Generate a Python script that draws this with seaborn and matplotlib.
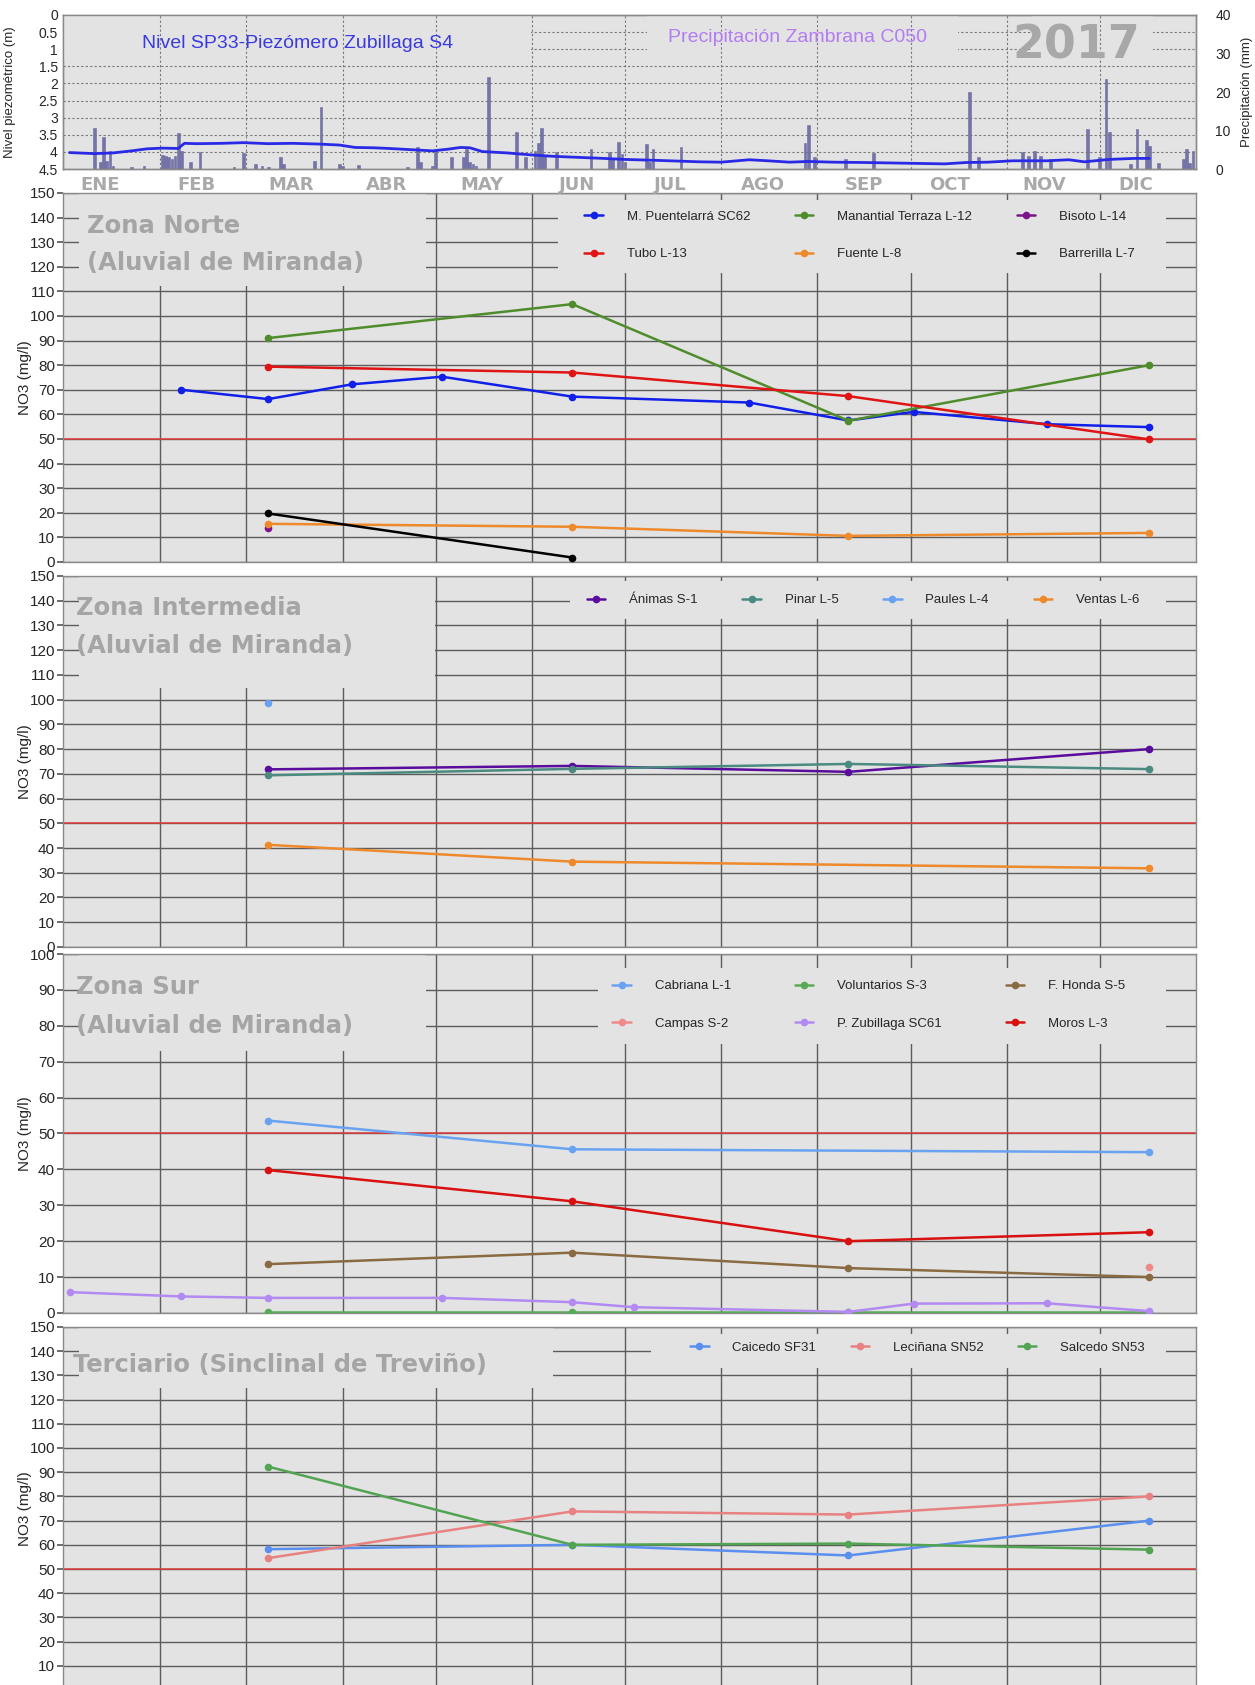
import pandas as pd
import matplotlib.pyplot as plt
from matplotlib.patches import Rectangle
from matplotlib.ticker import FuncFormatter, MultipleLocator
import seaborn as sns

# ---------------- datos ----------------
inicio = pd.Timestamp("2017-01-01")

# nivel piezométrico SP33 - Piezómetro Zubillaga S4 (día del año, m)
dia_nivel = [2, 10, 16, 22, 27, 32, 37, 39, 43, 51, 58, 66, 74, 82, 89, 94, 100,
             105, 111, 119, 124, 128, 131, 135, 143, 151, 158, 166, 174, 181,
             192, 205, 212, 221, 227, 234, 240, 248, 258, 271, 284, 291, 298,
             306, 317, 324, 329, 337, 345, 350]
nivel = [4.02, 4.05, 4.03, 3.97, 3.91, 3.89, 3.90, 3.75, 3.76, 3.75, 3.73, 3.76,
         3.75, 3.77, 3.80, 3.87, 3.88, 3.90, 3.93, 3.97, 3.92, 3.87, 3.88, 3.99,
         4.03, 4.09, 4.13, 4.16, 4.19, 4.22, 4.25, 4.29, 4.30, 4.23, 4.26, 4.30,
         4.28, 4.30, 4.31, 4.33, 4.35, 4.31, 4.30, 4.26, 4.26, 4.23, 4.29, 4.22,
         4.19, 4.19]

# precipitación Zambrana C050 (día del año, mm)
dia_lluvia = [10, 12, 13, 14, 15, 16, 22, 26, 32, 33, 34, 35, 36, 37, 38, 41, 44,
              55, 58, 62, 64, 66, 70, 71, 81, 83, 89, 90, 95, 111, 114, 115, 119,
              120, 125, 129, 130, 131, 132, 133, 137, 146, 149, 152, 153, 154,
              155, 159, 170, 176, 177, 179, 180, 181, 188, 189, 190, 199, 239,
              240, 242, 252, 261, 292, 295, 309, 311, 313, 315, 318, 330, 334,
              336, 337, 344, 346, 349, 350, 353, 361, 362, 363, 364]
lluvia = [10.7, 1.7, 8.4, 2.0, 4.7, 0.8, 0.6, 0.8, 3.7, 3.4, 3.0, 2.6, 3.4, 9.4,
          4.7, 1.9, 4.3, 0.6, 4.1, 1.2, 0.8, 0.6, 3.2, 1.2, 2.1, 16.0, 1.2, 0.8,
          1.0, 0.6, 5.6, 1.7, 0.8, 4.7, 3.0, 3.0, 5.3, 1.7, 1.2, 0.8, 23.8, 9.6,
          3.0, 4.7, 6.8, 10.7, 3.4, 4.3, 5.1, 4.4, 2.7, 7.0, 3.8, 1.7, 6.4, 1.7,
          5.3, 5.6, 6.7, 11.3, 3.2, 2.6, 4.1, 20.0, 3.0, 4.4, 3.4, 4.7, 3.4, 2.7,
          10.3, 3.0, 23.5, 9.6, 1.2, 10.4, 7.5, 6.0, 1.5, 2.7, 5.1, 1.5, 4.7]

meses = ["ENE", "FEB", "MAR", "ABR", "MAY", "JUN",
         "JUL", "AGO", "SEP", "OCT", "NOV", "DIC"]

# fechas de muestreo
f4 = ["2017-03-08", "2017-06-14", "2017-09-11", "2017-12-17"]
f_puentelarra = ["2017-02-08", "2017-03-08", "2017-04-04", "2017-05-03",
                 "2017-06-14", "2017-08-10", "2017-09-11", "2017-10-02",
                 "2017-11-14", "2017-12-17"]
f_zubillaga = ["2017-01-03", "2017-02-08", "2017-03-08", "2017-05-03",
               "2017-06-14", "2017-07-04", "2017-09-11", "2017-10-02",
               "2017-11-14", "2017-12-17"]

# NO3 (mg/l) - Zona Norte
puentelarra = [70, 66.2, 72.2, 75.3, 67.2, 64.8, 57.5, 61, 56, 54.8]
terraza = [91, 104.8, 57.4, 80]
bisoto = [13.9]
tubo = [79.4, 77, 67.4, 49.8]
fuente = [15.5, 14.3, 10.6, 11.8]
barrerilla = [19.7, 1.8]

# Zona Intermedia
animas = [71.8, 73.2, 70.8, 80]
pinar = [69.4, 72, 74, 71.9]
paules = [98.7]
ventas = [41.3, 34.5, 31.8]

# Zona Sur
cabriana = [53.6, 45.6, 44.8]
campas = [12.8]
voluntarios = [0.2, 0.2, 0.2, 0.2]
zubillaga = [5.8, 4.6, 4.2, 4.2, 3.0, 1.6, 0.3, 2.6, 2.7, 0.5]
honda = [13.6, 16.8, 12.5, 10]
moros = [39.8, 31.1, 20, 22.5]

# Terciario
caicedo = [58.2, 60, 55.6, 70]
leciniana = [54.5, 73.8, 72.5, 80]
salcedo = [92.3, 60, 60.5, 58]

# ---------------- estilo ----------------
BG = "#e3e3e3"
GRID = "#5c5c5c"
sns.set_theme(style="darkgrid", rc={"axes.facecolor": BG,
                                    "grid.color": GRID,
                                    "grid.linewidth": 1.0,
                                    "axes.edgecolor": "#8a8a8a",
                                    "axes.linewidth": 1.0})
plt.rcParams["font.family"] = ["Liberation Sans", "DejaVu Sans"]

fig = plt.figure(figsize=(12.55, 16.85), dpi=100)
x0, w = 0.0505, 0.9025
xlim = (inicio, pd.Timestamp("2018-01-01"))
inicio_mes = pd.date_range("2017-01-01", periods=12, freq="MS")
# posición de las etiquetas de mes (día del año)
pos_meses = [12, 43, 73.5, 104, 135, 165.5, 195.5, 225.5, 258, 285.5, 316, 345.5]

# ---------------- panel superior ----------------
ax = fig.add_axes([x0, 0.8997, w, 0.0914])
ax2 = ax.twinx()
ax.set_zorder(ax2.get_zorder() + 1)
ax.patch.set_visible(False)
ax2.patch.set_facecolor(BG)
ax2.patch.set_visible(True)
ax2.grid(False)

fechas_lluvia = inicio + pd.to_timedelta(dia_lluvia, unit="D")
ax2.bar(fechas_lluvia, lluvia, width=0.9, color="#7474a8", edgecolor="#6a6aa0",
        linewidth=0.4)
ax2.set_ylim(0, 40)
ax2.set_yticks([0, 10, 20, 30, 40])
ax2.tick_params(axis="y", labelsize=10, length=0, pad=14)
ax2.set_ylabel("Precipitación (mm)", fontsize=9.5, rotation=90)
ax2.yaxis.set_label_coords(1.04, 0.5)

fechas_nivel = inicio + pd.to_timedelta(dia_nivel, unit="D")
sns.lineplot(x=fechas_nivel, y=nivel, ax=ax, color="#2a2ae6", linewidth=2.0,
             zorder=3)
ax.set_ylim(4.5, 0)
ax.set_xlim(xlim)
ax.set_xlabel("")
ax.yaxis.set_major_locator(MultipleLocator(0.5))
ax.yaxis.set_major_formatter(FuncFormatter(lambda v, p: "%g" % v))
ax.tick_params(axis="y", labelsize=10, length=0, pad=4)
ax.set_ylabel("Nivel piezométrico (m)", fontsize=9.5)
ax.yaxis.set_label_coords(-0.042, 0.5)
ax.xaxis.grid(False)
ax.yaxis.grid(True, linestyle=(0, (2, 2)), color="#777777", linewidth=0.8)
for d in inicio_mes[1:]:
    ax.axvline(d, color="#777777", linestyle=(0, (2, 2)), linewidth=0.8,
               zorder=1.5)
ax.set_xticks(inicio + pd.to_timedelta(pos_meses, unit="D"))
ax.set_xticklabels(meses, fontsize=13, fontweight="bold", color="#a9a9a9",
                   family="DejaVu Sans")
ax.tick_params(axis="x", length=0, pad=5)
ax2.tick_params(axis="x", length=0, labelbottom=False)
for xa, xb in [(0.0, 0.413), (0.515, 0.79), (0.855, 0.962)]:
    ax.add_patch(Rectangle((xa, 0.70), xb - xa, 0.295, transform=ax.transAxes,
                           facecolor=BG, edgecolor="none", zorder=1))
ax.text(0.207, 0.818, "Nivel SP33-Piezómero Zubillaga S4", transform=ax.transAxes,
        ha="center", va="center", fontsize=14, color="#3a3ae0", zorder=4)
ax.text(0.648, 0.855, "Precipitación Zambrana C050", transform=ax.transAxes,
        ha="center", va="center", fontsize=14, color="#b27cf2", zorder=4)
ax.text(0.894, 0.80, "2017", transform=ax.transAxes, ha="center", va="center",
        fontsize=33, fontweight="bold", color="#a8a8a8", family="DejaVu Sans",
        zorder=4)


# ---------------- paneles NO3 ----------------
def panel_no3(rect, series, ymax, titulos, rect_titulo, rect_leyenda,
              orden, pos_leyenda, ncol, colsep):
    axn = fig.add_axes(rect)
    for nombre, fechas, valores, color in series:
        sns.lineplot(x=pd.to_datetime(fechas), y=valores, ax=axn, color=color,
                     marker="o", markersize=5.5, markeredgewidth=0,
                     linewidth=1.8, label=nombre, zorder=3)
    axn.axhline(50, color="#e03a3a", linewidth=1.1, zorder=2)
    axn.set_xlim(xlim)
    axn.set_ylim(0, ymax)
    axn.set_yticks(range(0, ymax + 1, 10))
    axn.set_xticks(inicio_mes[1:])
    axn.set_xlabel("")
    axn.tick_params(axis="x", length=0, labelbottom=False)
    axn.tick_params(axis="y", labelsize=11, length=4, color=GRID, left=True,
                    pad=2)
    axn.set_ylabel("NO3 (mg/l)", fontsize=11)
    axn.yaxis.set_label_coords(-0.028, 0.5)
    for xa, ya, xb, yb in [rect_titulo, rect_leyenda]:
        axn.add_patch(Rectangle((xa, ya), xb - xa, yb - ya,
                                transform=axn.transAxes, facecolor=BG,
                                edgecolor="none", zorder=1))
    for texto, tx, ty in titulos:
        axn.text(tx, ty, texto, transform=axn.transAxes, ha="left",
                 va="baseline", fontsize=17.5, fontweight="bold",
                 color="#a5a5a5", family="DejaVu Sans", zorder=4)
    h, l = axn.get_legend_handles_labels()
    hd = dict(zip(l, h))
    axn.legend([hd[n] for n in orden], orden, loc="center",
               bbox_to_anchor=pos_leyenda, ncol=ncol, frameon=False,
               fontsize=9.5, handlelength=1.4, handletextpad=1.8,
               columnspacing=colsep, labelspacing=1.9)
    return axn


panel_no3([x0, 0.6665, w, 0.219],
          [("M. Puentelarrá SC62", f_puentelarra, puentelarra, "#1020e8"),
           ("Manantial Terraza L-12", f4, terraza, "#4f8d2c"),
           ("Bisoto L-14", f4[:1], bisoto, "#7a1488"),
           ("Tubo L-13", f4, tubo, "#e01414"),
           ("Fuente L-8", f4, fuente, "#ee8a2c"),
           ("Barrerilla L-7", f4[:2], barrerilla, "#000000")],
          150,
          [("Zona Norte", 0.021, 0.892), ("(Aluvial de Miranda)", 0.021, 0.791)],
          (0.014, 0.748, 0.32, 1.0), (0.437, 0.783, 0.9735, 0.981),
          ["M. Puentelarrá SC62", "Tubo L-13", "Manantial Terraza L-12",
           "Fuente L-8", "Bisoto L-14", "Barrerilla L-7"],
          (0.703, 0.885), 3, 3.4)

panel_no3([x0, 0.4380, w, 0.2202],
          [("Ánimas S-1", f4, animas, "#5a0c9c"),
           ("Pinar L-5", f4, pinar, "#4a8a80"),
           ("Paules L-4", f4[:1], paules, "#6aa2f2"),
           ("Ventas L-6", [f4[0], f4[1], f4[3]], ventas, "#ee8a2c")],
          150,
          [("Zona Intermedia", 0.0115, 0.895),
           ("(Aluvial de Miranda)", 0.0115, 0.793)],
          (0.014, 0.698, 0.328, 1.0), (0.447, 0.885, 0.9735, 0.987),
          ["Ánimas S-1", "Pinar L-5", "Paules L-4", "Ventas L-6"],
          (0.706, 0.935), 4, 3.4)

panel_no3([x0, 0.2208, w, 0.2130],
          [("Cabriana L-1", [f4[0], f4[1], f4[3]], cabriana, "#6aa2f2"),
           ("Campas S-2", f4[3:], campas, "#ee8a8a"),
           ("Voluntarios S-3", f4, voluntarios, "#58aa58"),
           ("P. Zubillaga SC61", f_zubillaga, zubillaga, "#b28af2"),
           ("F. Honda S-5", f4, honda, "#8a6a40"),
           ("Moros L-3", f4, moros, "#d81010")],
          100,
          [("Zona Sur", 0.0115, 0.889), ("(Aluvial de Miranda)", 0.0115, 0.781)],
          (0.014, 0.73, 0.32, 1.0), (0.472, 0.749, 0.9735, 0.961),
          ["Cabriana L-1", "Campas S-2", "Voluntarios S-3",
           "P. Zubillaga SC61", "F. Honda S-5", "Moros L-3"],
          (0.711, 0.858), 3, 4.85)

panel_no3([x0, -0.003, w, 0.2155],
          [("Caicedo SF31", f4, caicedo, "#5a8ff0"),
           ("Leciñana SN52", f4, leciniana, "#e88282"),
           ("Salcedo SN53", f4, salcedo, "#52a452")],
          150,
          [("Terciario (Sinclinal de Treviño)", 0.0084, 0.877)],
          (0.014, 0.832, 0.432, 1.0), (0.519, 0.887, 0.9735, 0.981),
          ["Caicedo SF31", "Leciñana SN52", "Salcedo SN53"],
          (0.754, 0.942), 3, 2.6)

fig.savefig("out.png", dpi=100)
